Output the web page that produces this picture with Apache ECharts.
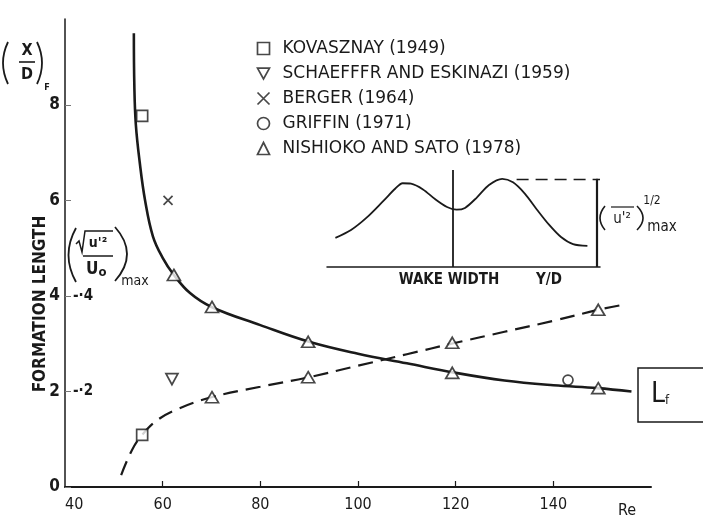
<!DOCTYPE html>
<html><head><meta charset="utf-8">
<script src="https://cdn.jsdelivr.net/npm/echarts@6/dist/echarts.min.js"></script>
<style>html,body{margin:0;padding:0;background:#fff}#c{width:703px;height:520px}</style>
</head><body><div id="c"></div>
<script>
// ---- data ----
const xTicks = [40, 60, 80, 100, 120, 140];
const yTicks = [0, 2, 4, 6, 8];
const uTicks = [0.2, 0.4];
// formation length curve (X/D)_F vs Re
const lfCurve = [[54.1,9.5],[54.2,8.4],[54.5,7.6],[55.3,6.8],[56.4,6.0],[58,5.25],[60,4.8],[62.3,4.44],[65.6,4.06],[70,3.77],[80,3.39],[90,3.04],[100,2.79],[110,2.59],[120,2.39],[130,2.23],[140,2.13],[149,2.07],[156,2.0]];
// max fluctuation intensity curve (sqrt(u'^2)/U0)max vs Re
const uCurve = [[51.5,0.025],[53.7,0.077],[55.8,0.109],[58.9,0.140],[63,0.163],[70,0.188],[80,0.210],[90,0.230],[100,0.254],[110,0.278],[120,0.302],[130,0.325],[140,0.348],[149.2,0.371],[154,0.381]];
const kovaszLf = [[55.8,7.77]];
const kovaszU = [[55.8,0.109]];
const schaefferLf = [[61.9,2.26]];
const bergerLf = [[61.1,6.0]];
const griffinLf = [[143,2.24]];
const nishiokaLf = [[62.3,4.44],[70.1,3.77],[89.8,3.04],[119.3,2.39],[149.2,2.07]];
const nishiokaU = [[70.1,0.188],[89.8,0.230],[119.3,0.302],[149.2,0.371]];
// inset: wake profile
const insetY = [-0.98,-0.85,-0.72,-0.58,-0.48,-0.42,-0.35,-0.25,-0.15,-0.05,0.03,0.10,0.20,0.30,0.41,0.50,0.60,0.70,0.80,0.90,1.00,1.12];
const insetU = [0.33,0.42,0.56,0.75,0.89,0.95,0.945,0.88,0.77,0.68,0.65,0.67,0.79,0.93,1.0,0.96,0.83,0.65,0.48,0.34,0.26,0.24];
const names = ['KOVASZNAY (1949)','SCHAEFFFR AND ESKINAZI (1959)','BERGER (1964)','GRIFFIN (1971)','NISHIOKO AND SATO (1978)'];

const INK = '#1a1a1a';
const FONT = '"DejaVu Sans Condensed", "DejaVu Sans", sans-serif';
const WIDE = '"DejaVu Sans", sans-serif';
const mk = {color:'#fff', borderColor: INK, borderWidth: 1.7};
const invTri = 'path://M0,0L10,0L5,9Z';
const cross = 'path://M0,0L10,10M10,0L0,10';

const chart = echarts.init(document.getElementById('c'));
const lbl = (x,y,t,sz,extra) => Object.assign({type:'text', x, y, style:{text:t, font:(extra&&extra.w||'normal')+' '+sz+'px '+FONT, fill:INK, align:'center', verticalAlign:'middle'}}, extra&&extra.o||{});
const paren = (x1,y1,cx,x2,y2,w) => ({type:'bezierCurve', shape:{x1,y1,x2,y2,cpx1:cx,cpy1:(y1+y2)/2}, style:{stroke:INK, lineWidth:w||1.6, fill:'none'}});

chart.setOption({
  animation: false,
  backgroundColor: '#fff',
  grid: [
    {left: 65, right: 52, top: 19, bottom: 33},
    {left: 327, top: 170, width: 273, height: 97}
  ],
  xAxis: [
    {type:'value', gridIndex:0, min:40, max:160,
     axisLine:{lineStyle:{color:INK, width:2}},
     axisTick:{inside:true, length:6, customValues:[60,80,100,120,140], lineStyle:{color:INK, width:1.2}},
     axisLabel:{customValues:xTicks, margin:10, color:INK, fontSize:16, fontFamily:FONT, alignMinLabel:'left'},
     splitLine:{show:false}},
    {type:'value', gridIndex:1, min:-1.05, max:1.225,
     axisLine:{onZero:false, lineStyle:{color:INK, width:1.5}}, axisTick:{show:false}, axisLabel:{show:false}, splitLine:{show:false}}
  ],
  yAxis: [
    {type:'value', gridIndex:0, min:0, max:9.8,
     axisLine:{show:true, lineStyle:{color:INK, width:1.5}},
     axisTick:{inside:true, length:6, customValues:yTicks, lineStyle:{color:'#777', width:1}},
     axisLabel:{customValues:yTicks, margin:5, color:INK, fontSize:17, fontWeight:'bold', fontFamily:FONT},
     splitLine:{show:false}},
    {type:'value', gridIndex:0, min:0, max:0.98, position:'left',
     axisLine:{show:false}, axisTick:{show:false},
     axisLabel:{inside:true, customValues:uTicks, margin:8, color:INK, fontSize:15, fontWeight:'bold', fontFamily:FONT,
       formatter: v => '-·' + Math.round(v*10)},
     splitLine:{show:false}},
    {type:'value', gridIndex:1, min:0, max:1.1, show:false}
  ],
  legend: {
    orient:'vertical', left:250, top:35, itemWidth:12, itemHeight:12, itemGap:8, itemStyle:{borderWidth:1.7},
    textStyle:{color:INK, fontSize:17, fontFamily:WIDE, lineHeight:17, padding:[0,0,0,8]},
    data: names
  },
  series: [
    {type:'line', name:'Lf', data:lfCurve, xAxisIndex:0, yAxisIndex:0, smooth:0.4, showSymbol:false,
     lineStyle:{color:INK, width:2.6}, z:2},
    {type:'line', name:'umax', data:uCurve, xAxisIndex:0, yAxisIndex:1, smooth:0.4, showSymbol:false,
     lineStyle:{color:INK, width:2.2, type:[15,8]}, z:2},
    {type:'scatter', name:names[0], data:kovaszLf, xAxisIndex:0, yAxisIndex:0, symbol:'rect', symbolSize:11, itemStyle:mk, z:5},
    {type:'scatter', name:names[0], data:kovaszU, xAxisIndex:0, yAxisIndex:1, symbol:'rect', symbolSize:11, itemStyle:mk, z:5},
    {type:'scatter', name:names[1], data:schaefferLf, xAxisIndex:0, yAxisIndex:0, symbol:invTri, symbolSize:[12,11], itemStyle:mk, z:5},
    {type:'scatter', name:names[2], data:bergerLf, xAxisIndex:0, yAxisIndex:0, symbol:cross, symbolSize:9, itemStyle:{color:'none', borderColor:INK, borderWidth:1.7}, z:5},
    {type:'scatter', name:names[3], data:griffinLf, xAxisIndex:0, yAxisIndex:0, symbol:'circle', symbolSize:10, itemStyle:mk, z:5},
    {type:'scatter', name:names[4], data:nishiokaLf, xAxisIndex:0, yAxisIndex:0, symbol:'triangle', symbolSize:[13,11], itemStyle:mk, z:5},
    {type:'scatter', name:names[4], data:nishiokaU, xAxisIndex:0, yAxisIndex:1, symbol:'triangle', symbolSize:[13,11], itemStyle:mk, z:5},
    {type:'line', name:'inset', data:insetY.map((t,i)=>[t, insetU[i]]), xAxisIndex:1, yAxisIndex:2, smooth:0.3, showSymbol:false,
     lineStyle:{color:INK, width:1.8},
     markLine:{silent:true, symbol:['none','none'], label:{show:false},
       data:[
         {xAxis:0, lineStyle:{color:INK, width:1.8, type:'solid'}},
         [{coord:[0.53,1.0], lineStyle:{color:INK, width:1.3, type:[12,7]}},{coord:[1.225,1.0]}],
         [{coord:[1.2,0.0], lineStyle:{color:INK, width:2.2, type:'solid'}},{coord:[1.2,1.0]}]
       ]}}
  ],
  graphic: [
    // (X/D)_F
    paren(8,42,-2,8,84,1.8),
    lbl(27,51,'X',16,{w:'bold'}),
    {type:'line', shape:{x1:19,y1:62,x2:35,y2:62}, style:{stroke:INK, lineWidth:1.6}},
    lbl(27,75,'D',16,{w:'bold'}),
    paren(37,42,47,37,84,1.8),
    lbl(47,88,'F',9,{w:'bold'}),
    // FORMATION LENGTH
    lbl(41,304,'FORMATION LENGTH',17,{w:'bold', o:{rotation:Math.PI/2}}),
    // (sqrt(u'^2)/Uo)max
    paren(76,228,61,76,282,1.8),
    {type:'polyline', shape:{points:[[76,244],[79,241],[82,252],[85,231],[113,231]]}, style:{stroke:INK, lineWidth:1.5, fill:'none'}},
    lbl(98,243,"u'²",14,{w:'bold'}),
    {type:'line', shape:{x1:83,y1:256,x2:113,y2:256}, style:{stroke:INK, lineWidth:1.5}},
    {type:'text', x:86, y:270, style:{rich:{a:{font:'bold 17px '+FONT, fill:INK},b:{font:'bold 13px '+FONT, fill:INK, padding:[5,0,0,0]}}, text:'{a|U}{b|o}', verticalAlign:'middle'}},
    paren(115,227,139,115,281,1.8),
    lbl(135,281,'max',14),
    // inset labels
    lbl(449,280,'WAKE WIDTH',15,{w:'bold'}),
    lbl(549,280,'Y/D',15,{w:'bold'}),
    paren(605,206,595,605,230),
    {type:'line', shape:{x1:611,y1:207,x2:634,y2:207}, style:{stroke:INK, lineWidth:1.2}},
    lbl(622,219,"u'²",15),
    paren(637,206,649,637,230),
    lbl(652,201,'1/2',12),
    lbl(662,227,'max',15),
    // Re
    lbl(627,511,'Re',16),
    // L_f box
    {type:'rect', shape:{x:638,y:368,width:70,height:54}, style:{stroke:INK, lineWidth:1.5, fill:'#fff'}},
    {type:'text', x:651, y:395, style:{rich:{a:{font:'28px '+FONT, fill:INK},b:{font:'13px '+FONT, fill:INK, padding:[12,0,0,0]}}, text:'{a|L}{b|f}', verticalAlign:'middle'}}
  ]
});
</script></body></html>
